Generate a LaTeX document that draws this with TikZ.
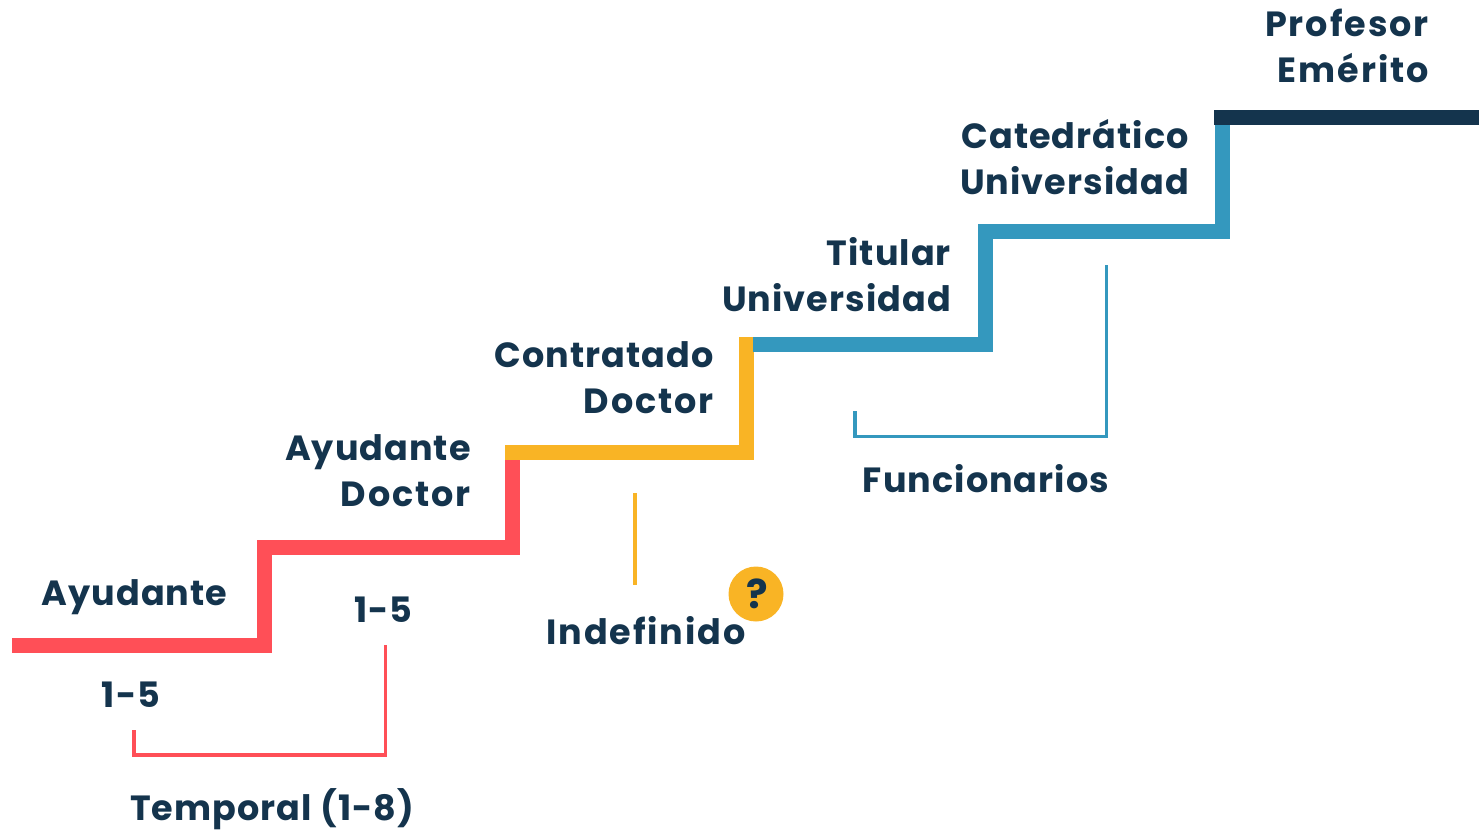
\documentclass[tikz,border=0pt]{standalone}
\usepackage{fontspec}
\setmainfont[LetterSpace=3]{Poppins}
\newfontfamily\widefont[LetterSpace=5.5]{Poppins}
\definecolor{navy}{HTML}{14344D}
\definecolor{coral}{HTML}{FF4F57}
\definecolor{amber}{HTML}{F9B425}
\definecolor{teal}{HTML}{3498BE}
\tikzset{
  stair/.style={line width=15pt,line cap=butt,line join=miter},
  bracket/.style={line width=3.4pt,line join=miter},
  lbl/.style={font=\fontsize{35}{46}\selectfont\bfseries,text=navy,inner sep=0pt,align=right},
  lblc/.style={font=\fontsize{35}{46}\selectfont\bfseries,text=navy,inner sep=0pt},
}
\begin{document}
\begin{tikzpicture}[x=1pt,y=-1pt]
\useasboundingbox (0,0) rectangle (1479,836);
\coordinate (r0) at (12,645);
\coordinate (r1) at (264,645);
\coordinate (r2) at (264,547);
\coordinate (r3) at (512.5,547);
\coordinate (r4) at (512.5,452);
\coordinate (y0) at (505,452);
\coordinate (y1) at (746.5,452);
\coordinate (y2) at (746.5,337);
\coordinate (t0) at (753,344.5);
\coordinate (t1) at (985.5,344.5);
\coordinate (t2) at (985.5,231);
\coordinate (t3) at (1222,231);
\coordinate (t4) at (1222,118);
\coordinate (n0) at (1214,117.5);
\coordinate (n1) at (1479,117.5);
\draw[stair,coral] (r0) -- (r1) -- (r2) -- (r3) -- (r4);
\draw[stair,amber] (y0) -- (y1) -- (y2);
\draw[stair,teal] (t0) -- (t1) -- (t2) -- (t3) -- (t4);
\draw[stair,navy] (n0) -- (n1);
\coordinate (b1a) at (134,730);
\coordinate (b1b) at (134,755);
\coordinate (b1c) at (385.5,755);
\coordinate (b1d) at (385.5,645);
\draw[bracket,coral] (b1a) -- (b1b) -- (b1c) -- (b1d);
\coordinate (v1) at (635,493);
\coordinate (v2) at (635,585);
\draw[bracket,amber] (v1) -- (v2);
\coordinate (b2a) at (855,411);
\coordinate (b2b) at (855,436.5);
\coordinate (b2c) at (1106.5,436.5);
\coordinate (b2d) at (1106.5,265);
\draw[bracket,teal] (b2a) -- (b2b) -- (b2c) -- (b2d);
\node[lbl,anchor=east] (prof) at (1429,46) {{\widefont Profesor}\\{\widefont Emérito}};
\node[lbl,anchor=east] (cat) at (1189,157) {Catedrático\\Universidad};
\node[lbl,anchor=east] (tit) at (951,275) {Titular\\Universidad};
\node[lbl,anchor=east] (con) at (714,378) {Contratado\\{\widefont Doctor}};
\node[lbl,anchor=east] (ayd) at (471,470.5) {Ayudante\\{\widefont Doctor}};
\node[lblc] (ay) at (134.5,597) {Ayudante};
\node[lblc] (a15) at (383.5,609.5) {1-5};
\node[lblc] (b15) at (131,694.5) {1-5};
\node[lblc] (temp) at (272,809.5) {Temporal (1-8)};
\node[lblc] (ind) at (646,631) {\widefont Indefinido};
\node[lblc] (fun) at (986,479) {Funcionarios};
\node[circle,fill=amber,minimum size=55pt,inner sep=0pt,font=\fontsize{40}{40}\selectfont\bfseries,text=navy] (q) at (756,594) {\kern2pt\raisebox{1pt}{?}};
\end{tikzpicture}
\end{document}
